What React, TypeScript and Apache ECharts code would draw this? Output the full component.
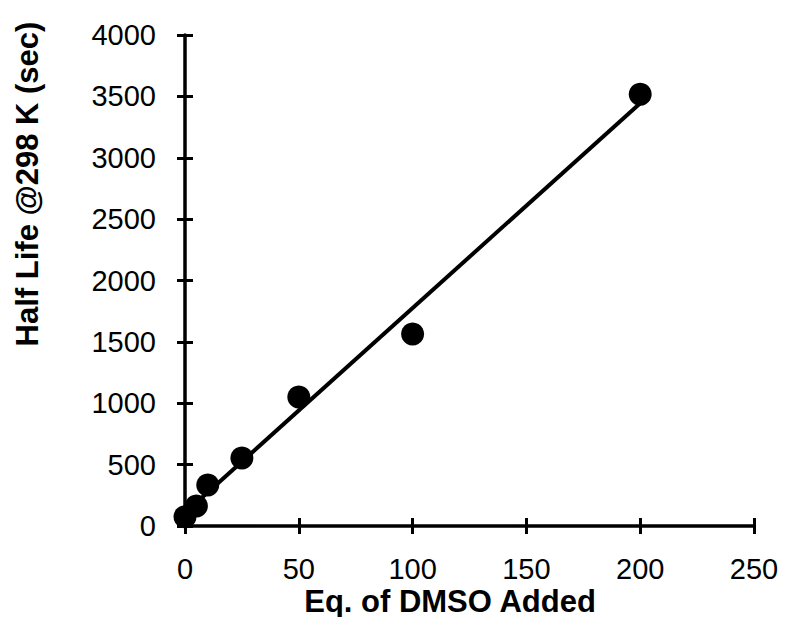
import React, { useEffect, useRef } from "react";
import * as echarts from "echarts";

const eqDMSO = [0, 5, 10, 25, 50, 100, 200];
const halfLife = [76, 163, 334, 554, 1051, 1564, 3517];
const trendX = [0, 200];
const trendY = [107, 3444];
const xTitle = "Eq. of DMSO Added";
const yTitle = "Half Life @298 K (sec)";

const FONT = "Liberation Sans, Arial, sans-serif";

export default function App() {
  const ref = useRef<HTMLDivElement>(null);
  useEffect(() => {
    if (!ref.current) return;
    const chart = echarts.init(ref.current, undefined, { renderer: "svg" });
    const axisBase = {
      type: "value" as const,
      gridIndex: 0,
      splitLine: { show: false },
    };
    const plain = (v: number) => String(v);
    chart.setOption({
      animation: false,
      backgroundColor: "#ffffff",
      grid: { left: 185, right: 31, top: 35, bottom: 91, containLabel: false },
      xAxis: [
        {
          ...axisBase,
          min: 0,
          max: 250,
          interval: 50,
          position: "bottom",
          axisLine: { show: true, lineStyle: { color: "#000", width: 3.5 } },
          axisTick: { show: true, inside: false, length: 8, lineStyle: { color: "#000", width: 3 } },
          axisLabel: { color: "#000", fontSize: 29, fontFamily: FONT, margin: 28, formatter: plain },
        },
        {
          ...axisBase,
          min: 0,
          max: 250,
          interval: 50,
          position: "bottom",
          axisLine: { show: false },
          axisTick: { show: true, inside: true, length: 8, lineStyle: { color: "#000", width: 3 } },
          axisLabel: { show: false },
        },
      ],
      yAxis: [
        {
          ...axisBase,
          min: 0,
          max: 4000,
          interval: 500,
          position: "left",
          axisLine: { show: true, lineStyle: { color: "#000", width: 3.5 } },
          axisTick: { show: true, inside: false, length: 8, lineStyle: { color: "#000", width: 3 } },
          axisLabel: { color: "#000", fontSize: 29, fontFamily: FONT, margin: 29, formatter: plain },
        },
        {
          ...axisBase,
          min: 0,
          max: 4000,
          interval: 500,
          position: "left",
          axisLine: { show: false },
          axisTick: { show: true, inside: true, length: 8, lineStyle: { color: "#000", width: 3 } },
          axisLabel: { show: false },
        },
      ],
      series: [
        {
          type: "line",
          xAxisIndex: 0,
          yAxisIndex: 0,
          data: trendX.map((x, i) => [x, trendY[i]]),
          showSymbol: false,
          symbol: "none",
          lineStyle: { color: "#000", width: 4 },
          z: 2,
        },
        {
          type: "scatter",
          xAxisIndex: 0,
          yAxisIndex: 0,
          data: eqDMSO.map((x, i) => [x, halfLife[i]]),
          symbol: "circle",
          symbolSize: 23,
          itemStyle: { color: "#000", opacity: 1 },
          z: 3,
        },
      ],
      graphic: [
        {
          type: "text",
          x: 450,
          y: 601,
          style: {
            text: xTitle,
            fill: "#000",
            font: `bold 31px ${FONT}`,
            textAlign: "center",
            textVerticalAlign: "middle",
          },
        },
        {
          type: "text",
          x: 27,
          y: 184,
          rotation: Math.PI / 2,
          style: {
            text: yTitle,
            fill: "#000",
            font: `bold 31px ${FONT}`,
            textAlign: "center",
            textVerticalAlign: "middle",
          },
        },
      ],
    });
    return () => chart.dispose();
  }, []);
  return <div ref={ref} style={{ width: 785, height: 617, position: "absolute", left: 0, top: 0 }} />;
}
